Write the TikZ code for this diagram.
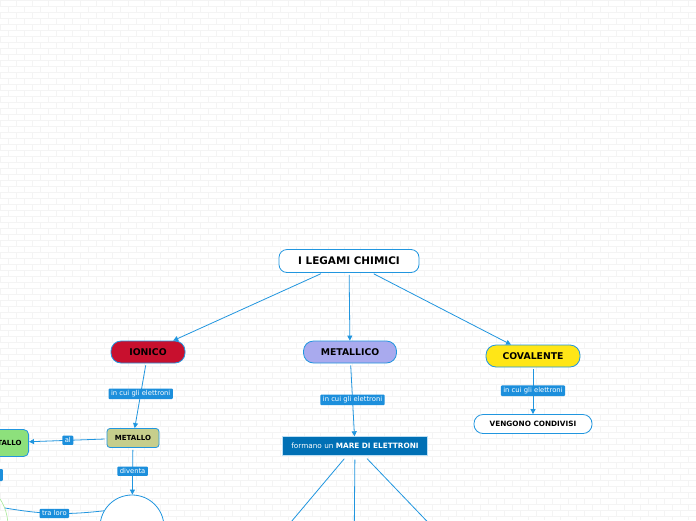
\documentclass[tikz,border=0pt]{standalone}
\usepackage{fontspec}
\setmainfont{DejaVu Sans}
\usetikzlibrary{shapes,arrows.meta,positioning,calc}
\definecolor{mapBlue}{HTML}{2196DF}
\definecolor{lblBlue}{HTML}{1C8FDC}
\definecolor{seaBlue}{HTML}{0070B5}
\definecolor{ionRed}{HTML}{C8102E}
\definecolor{metLilac}{HTML}{A9AAEE}
\definecolor{covYellow}{HTML}{FFE617}
\definecolor{metOlive}{HTML}{C6CE8C}
\definecolor{nonGreen}{HTML}{8DE07C}
\definecolor{paleGreen}{HTML}{A6E896}
\definecolor{brick}{HTML}{F4F4F4}

\begin{document}
\begin{tikzpicture}[x=1pt, y=-1pt,
    every node/.style={font=\fontsize{7}{8}\selectfont},
    pill/.style={draw=mapBlue, line width=0.8pt, rounded corners=10pt,
                 minimum height=22pt, font=\fontsize{9.3}{10}\selectfont\bfseries},
    lbl/.style={fill=lblBlue, text=white, rounded corners=1pt,
                inner xsep=2.5pt, inner ysep=2pt, font=\fontsize{6.8}{7}\selectfont},
    arr/.style={-{Triangle[length=5pt,width=5pt]}, mapBlue, line width=0.8pt, shorten <=2pt},
    wire/.style={mapBlue, line width=0.8pt},
  ]
  \clip (0,0) rectangle (696,520);
  \fill[white] (0,0) rectangle (696,520);
  % brick wall
  \foreach \r in {0,6,...,516}
    \draw[brick, line width=0.5pt] (0,\r) -- (696,\r);
  \foreach \c in {0,16,...,688} {
    \draw[brick, line width=0.5pt, dash pattern=on 6pt off 6pt] (\c,0) -- (\c,520);
    \draw[brick, line width=0.5pt, dash pattern=on 6pt off 6pt, dash phase=6pt] (\c+8,0) -- (\c+8,520);
  }

  \node[pill, fill=white, minimum width=140pt, minimum height=23pt, rounded corners=8pt,
        font=\fontsize{10.4}{11}\selectfont\bfseries] (root) at (349,261) {I LEGAMI CHIMICI};
  \node[pill, fill=ionRed, minimum width=74pt] (ion) at (148,352) {IONICO};
  \node[pill, fill=metLilac, minimum width=93pt] (met) at (350,352) {METALLICO};
  \node[pill, fill=covYellow, minimum width=94pt] (cov) at (533,356) {COVALENTE};
  \node[pill, fill=white, minimum width=118pt, minimum height=19pt, rounded corners=9pt,
        font=\fontsize{7.3}{8}\selectfont\bfseries] (shared) at (533,424) {VENGONO CONDIVISI};
  \node[draw=mapBlue!30, fill=seaBlue, text=white, minimum width=145pt, minimum height=19pt,
        font=\fontsize{7.3}{8}\selectfont] (sea) at (355,446) {formano un \textbf{MARE DI ELETTRONI}};
  \node[pill, fill=metOlive, minimum width=52pt, minimum height=19pt, rounded corners=3pt,
        font=\fontsize{7}{8}\selectfont\bfseries] (metal) at (133,438) {METALLO};
  \node[pill, fill=nonGreen, minimum height=27pt, rounded corners=5pt, inner xsep=7pt,
        anchor=east, font=\fontsize{7}{8}\selectfont\bfseries] (nonmet) at (29,443) {NON METALLO};
  \node[lbl, anchor=east, minimum width=30pt, minimum height=12pt] (cutlbl) at (3,475) {};
  \node[draw=mapBlue, fill=white, circle, minimum size=64pt, line width=0.8pt] (cation) at (132,527) {};
  \node[draw=paleGreen, circle, minimum size=100pt, line width=0.6pt] (anion) at (-42,526) {};
  \coordinate (sea1) at (259,560);
  \coordinate (sea2) at (354,560);
  \coordinate (sea3) at (464,560);

  \draw[arr] (root) -- (ion);
  \draw[arr] (root) -- (met);
  \draw[arr] (root) -- (cov);
  \draw[arr] (ion) -- node[lbl, pos=0.47] {in cui gli elettroni} (metal);
  \draw[arr] (met) -- node[lbl] {in cui gli elettroni} (sea);
  \draw[arr] (cov) -- node[lbl] {in cui gli elettroni} (shared);
  \draw[arr] (metal) -- node[lbl] {al} (nonmet);
  \draw[arr] (metal) -- node[lbl] {diventa} (cation);
  \draw[wire] (anion.21) to[bend right=8] node[lbl] {tra loro} (cation.150);
  \draw[arr, shorten <=4pt] (sea) -- (sea1);
  \draw[arr, shorten <=4pt] (sea) -- (sea2);
  \draw[arr, shorten <=4pt] (sea) -- (sea3);
\end{tikzpicture}
\end{document}
